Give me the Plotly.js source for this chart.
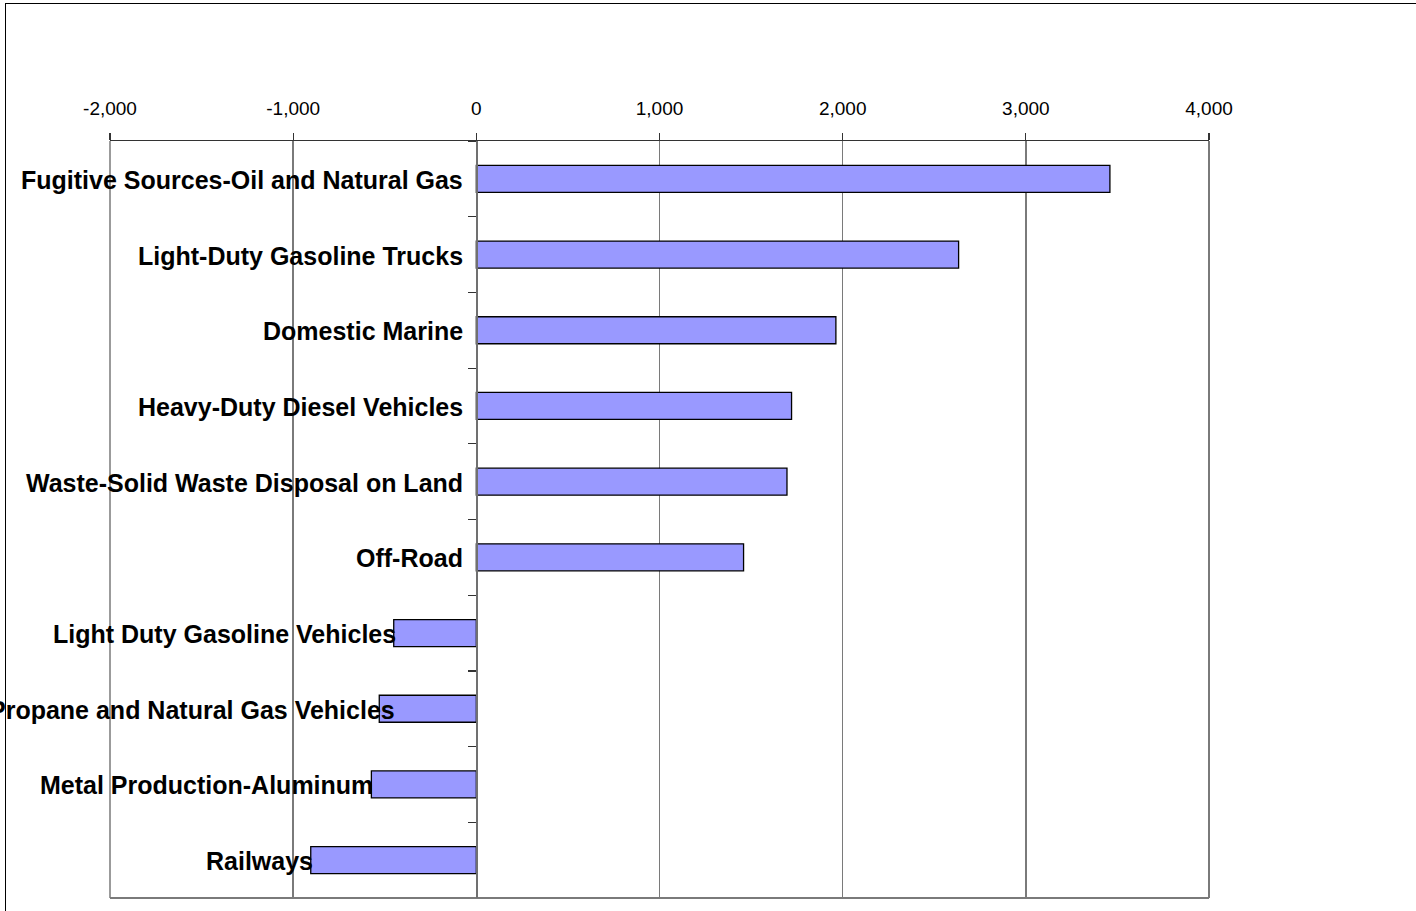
<!DOCTYPE html>
<html>
<head>
<meta charset="utf-8">
<script src="https://cdn.plot.ly/plotly-3.0.1.min.js"></script>
<style>
  html, body { margin: 0; padding: 0; background: #fff; overflow: hidden; }
  #chart { position: absolute; left: 0; top: 0; width: 1416px; height: 911px; }
  #frame { position: absolute; left: 5px; top: 3px; width: 1500px; height: 1000px;
           border-left: 1.5px solid #000; border-top: 1.5px solid #000; pointer-events: none; }
</style>
</head>
<body>
<div id="chart"></div>
<div id="frame"></div>
<script>
const categories = [
  "Fugitive Sources-Oil and Natural Gas",
  "Light-Duty Gasoline Trucks",
  "Domestic Marine",
  "Heavy-Duty Diesel Vehicles",
  "Waste-Solid Waste Disposal on Land",
  "Off-Road",
  "Light Duty Gasoline Vehicles",
  "Propane and Natural Gas Vehicles",
  "Metal Production-Aluminum",
  "Railways"
];
const values = [3459, 2633, 1963, 1721, 1696, 1459, -451, -530, -573, -904];
const xTickVals = [-2000, -1000, 0, 1000, 2000, 3000, 4000];
const xTickText = ["-2,000", "-1,000", "0", "1,000", "2,000", "3,000", "4,000"];

const xRange = [-2000, 4000];
const font = "Arial, 'Liberation Sans', sans-serif";
const W = 1416, H = 911;
const M = { l: 110, r: 207, t: 141, b: 13 };
const labelSize = 25;

// text width measurement (to keep labels from running too far off the left edge, like the original)
const ctx = document.createElement("canvas").getContext("2d");
ctx.font = "bold " + labelSize + "px Arial, 'Liberation Sans', sans-serif";
const plotW = W - M.l - M.r;
function toPx(v) { return M.l + (v - xRange[0]) / (xRange[1] - xRange[0]) * plotW; }

const trace = {
  type: "bar",
  orientation: "h",
  x: values,
  y: categories,
  marker: { color: "#9999FF", line: { color: "#000000", width: 1.3 } },
  hoverinfo: "x+y"
};

const annotations = categories.map((c, i) => {
  const base = Math.min(0, values[i]);
  let shift = values[i] < 0 ? 3 : -12;
  const w = ctx.measureText(c).width;
  const right = toPx(base) + shift;
  const minLeft = -10;
  if (right - w < minLeft) shift += (minLeft - (right - w));
  return {
    x: base,
    y: c,
    xref: "x",
    yref: "y",
    text: "<b>" + c + "</b>",
    showarrow: false,
    xanchor: "right",
    yanchor: "middle",
    borderpad: 0,
    xshift: shift,
    yshift: -1,
    font: { family: font, size: labelSize, color: "#000" }
  };
});

const layout = {
  width: W,
  height: H,
  margin: { l: M.l, r: M.r, t: M.t, b: M.b, pad: 0 },
  paper_bgcolor: "#ffffff",
  plot_bgcolor: "#ffffff",
  showlegend: false,
  bargap: 0.643,
  font: { family: font, color: "#000" },
  xaxis: {
    side: "top",
    range: xRange,
    tickvals: xTickVals,
    ticktext: xTickText,
    tickfont: { family: font, size: 19, color: "#000" },
    showgrid: true,
    gridcolor: "#7a7a7a",
    gridwidth: 1.5,
    zeroline: false,
    showline: true,
    linecolor: "#333333",
    linewidth: 1.3,
    ticks: "outside",
    ticklen: 7,
    tickcolor: "#333333",
    tickwidth: 1.3,
    ticklabelstandoff: 10,
    fixedrange: true
  },
  yaxis: {
    type: "category",
    autorange: "reversed",
    anchor: "free",
    position: (0 - xRange[0]) / (xRange[1] - xRange[0]),
    showline: true,
    linecolor: "#707070",
    linewidth: 1.6,
    ticks: "outside",
    tickson: "boundaries",
    ticklen: 8,
    tickcolor: "#333333",
    tickwidth: 1.2,
    showticklabels: false,
    showgrid: false,
    zeroline: false,
    fixedrange: true
  },
  shapes: [
    { type: "line", xref: "paper", yref: "paper", x0: 0, x1: 1, y0: 0, y1: 0,
      line: { color: "#7a7a7a", width: 2 }, layer: "below" },
    { type: "line", xref: "paper", yref: "paper", x0: 0, x1: 0, y0: 0, y1: 1,
      line: { color: "#7a7a7a", width: 1.5 }, layer: "below" },
    { type: "line", xref: "paper", yref: "paper", x0: 1, x1: 1, y0: 0, y1: 1,
      line: { color: "#7a7a7a", width: 2 }, layer: "below" }
  ],
  annotations: annotations
};

Plotly.newPlot("chart", [trace], layout, { displayModeBar: false, staticPlot: true });
</script>
</body>
</html>
